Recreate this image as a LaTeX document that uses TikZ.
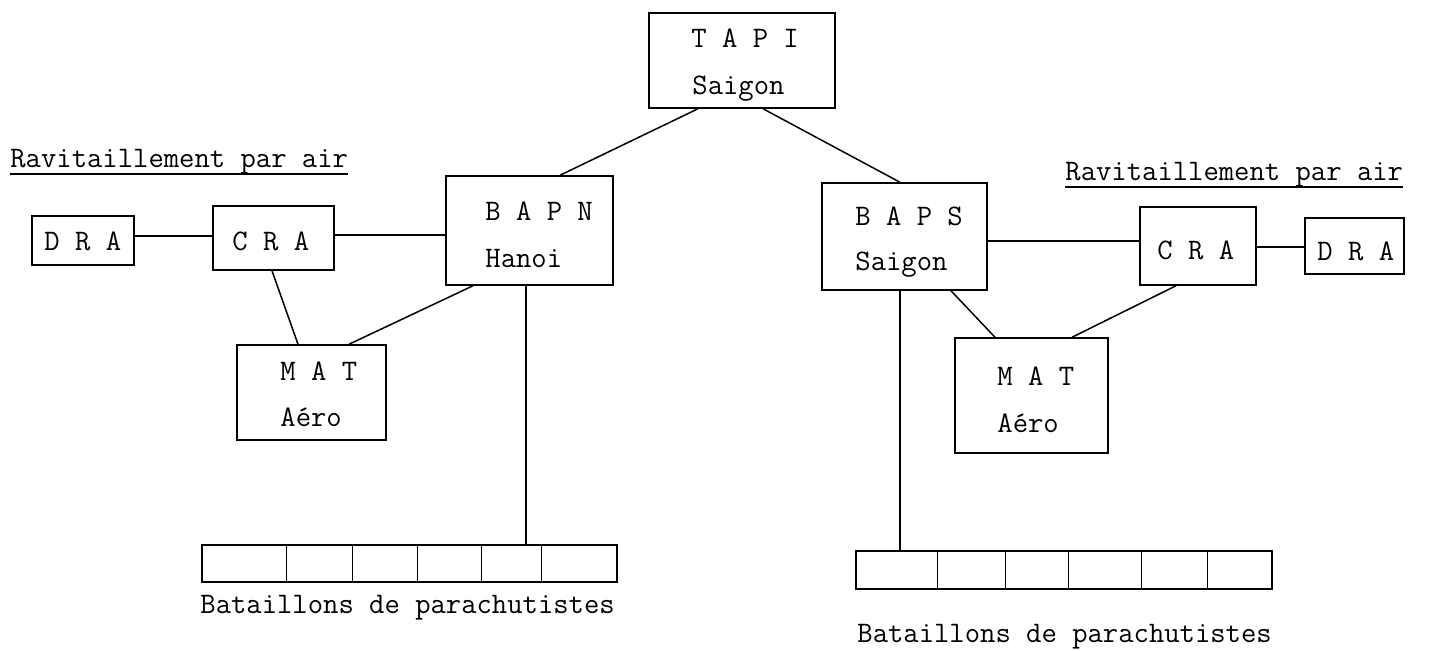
\documentclass[tikz,border=0pt]{standalone}
\begin{document}
\begin{tikzpicture}[x=0.5pt,y=-0.5pt,
  box/.style={draw, line width=0.75pt, inner sep=0pt, rectangle},
  txt/.style={inner sep=0pt, anchor=base west, font=\fontsize{14.9pt}{18pt}\selectfont\ttfamily},
  link/.style={line width=0.75pt},
  divider/.style={line width=0.75pt}]
\path[use as bounding box] (0,0) rectangle (1433,650);

% boxes
\node[box, minimum width=93pt,   minimum height=47.5pt] (tapi) at (742,60.5) {};
\node[box, minimum width=83.5pt, minimum height=54.5pt] (bapn) at (529.5,230.5) {};
\node[box, minimum width=82.5pt, minimum height=53.5pt] (baps) at (904.5,236.5) {};
\node[box, minimum width=60.5pt, minimum height=32pt]   (craL) at (273.5,238) {};
\node[box, minimum width=51pt,   minimum height=24.5pt] (draL) at (83,240.5) {};
\node[box, minimum width=74.5pt, minimum height=47.5pt] (matL) at (311.5,392.5) {};
\node[box, minimum width=58pt,   minimum height=39pt]   (craR) at (1198,246) {};
\node[box, minimum width=49.5pt, minimum height=28pt]   (draR) at (1354.5,246) {};
\node[box, minimum width=76.5pt, minimum height=57.5pt] (matR) at (1031.5,395.5) {};
\node[box, minimum width=207.5pt,minimum height=18.5pt] (batL) at (409.5,563.5) {};
\node[box, minimum width=208pt,  minimum height=19pt]   (batR) at (1064,570) {};

% dividers of the battalion boxes
\foreach \o in {42.5,75.5,108,140,170}
  \draw[divider] ([xshift=\o pt]batL.north west) -- ([xshift=\o pt]batL.south west);
\foreach \o in {41,75,106.5,143,176}
  \draw[divider] ([xshift=\o pt]batR.north west) -- ([xshift=\o pt]batR.south west);

% texts
\node[txt] (t1) at (691,47) {T A P I};
\node[txt] (t2) at (692,94) {Saigon};
\node[txt] (t3) at (485,220) {B A P N};
\node[txt] (t4) at (485,267) {Hanoi};
\node[txt] (t5) at (855,225) {B A P S};
\node[txt] (t6) at (855,270) {Saigon};
\node[txt] (t7) at (232,250) {C R A};
\node[txt] (t8) at (1157,259) {C R A};
\node[txt] (t9) at (44,250) {D R A};
\node[txt] (t10) at (1317,260) {D R A};
\node[txt] (t11) at (280,380) {M A T};
\node[txt] (t12) at (280,426) {Aéro};
\node[txt] (t13) at (997,385) {M A T};
\node[txt] (t14) at (997,432) {Aéro};
\node[txt] (rL) at (10,167) {Ravitaillement par air};
\node[txt] (rR) at (1065,180) {Ravitaillement par air};
\node[txt] (bL) at (200,613) {Bataillons de parachutistes};
\node[txt] (bR) at (857,642) {Bataillons de parachutistes};

% underlines
\draw[line width=0.75pt] ([yshift=-3.5pt]rL.base west) -- ([yshift=-3.5pt]rL.base east);
\draw[line width=0.75pt] ([yshift=-3.5pt]rR.base west) -- ([yshift=-3.5pt]rR.base east);

% connectors
\draw[link] ([xshift=-22pt]tapi.south) -- ([xshift=15.25pt]bapn.north);
\draw[link] ([xshift=10.5pt]tapi.south) -- ([xshift=-2.25pt]baps.north);
\draw[link] ([yshift=2.25pt]draL.east) -- ([yshift=2.25pt]draL.east -| craL.west);
\draw[link] ([yshift=1.5pt]craL.east) -- ([yshift=1.5pt]craL.east -| bapn.west);
\draw[link] ([xshift=-0.75pt]craL.south) -- ([xshift=-6.75pt]matL.north);
\draw[link] ([xshift=-28.25pt]bapn.south) -- ([xshift=18.75pt]matL.north);
\draw[link] ([xshift=-1.75pt]bapn.south) -- ([xshift=-1.75pt]bapn.south |- batL.north);
\draw[link] ([yshift=-2.25pt]baps.east) -- ([yshift=-2.25pt]baps.east -| craR.west);
\draw[link] ([yshift=-0.5pt]craR.east) -- ([yshift=-0.5pt]craR.east -| draR.west);
\draw[link] ([xshift=23.25pt]baps.south) -- ([xshift=-18.25pt]matR.north);
\draw[link] ([xshift=-11pt]craR.south) -- ([xshift=20.25pt]matR.north);
\draw[link] ([xshift=-2.25pt]baps.south) -- ([xshift=-2.25pt]baps.south |- batR.north);
\end{tikzpicture}
\end{document}
